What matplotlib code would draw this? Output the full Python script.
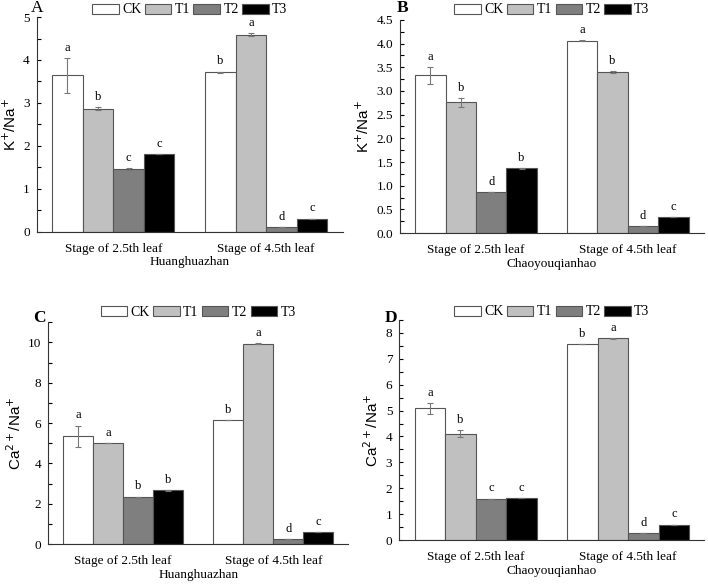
import matplotlib
matplotlib.use("Agg")
import matplotlib.pyplot as plt
from matplotlib.ticker import MultipleLocator, FormatStrFormatter
import numpy as np

# data
stages = ["Stage of 2.5th leaf", "Stage of 4.5th leaf"]
treatments = ["CK", "T1", "T2", "T3"]
colors = ["#ffffff", "#c0c0c0", "#7f7f7f", "#000000"]

a_vals = [[3.64, 2.87, 1.46, 1.81], [3.71, 4.59, 0.11, 0.31]]
a_err = [[0.40, 0.04, 0.03, 0.0], [0.02, 0.03, 0.0, 0.0]]
a_sig = [["a", "b", "c", "c"], ["b", "a", "d", "c"]]

b_vals = [[3.33, 2.76, 0.87, 1.37], [4.06, 3.40, 0.15, 0.34]]
b_err = [[0.18, 0.09, 0.0, 0.01], [0.01, 0.02, 0.0, 0.0]]
b_sig = [["a", "b", "d", "b"], ["a", "b", "d", "c"]]

c_vals = [[5.36, 4.99, 2.33, 2.66], [6.13, 9.93, 0.25, 0.58]]
c_err = [[0.52, 0.0, 0.03, 0.04], [0.0, 0.03, 0.0, 0.0]]
c_sig = [["a", "a", "b", "b"], ["b", "a", "d", "c"]]

d_vals = [[5.08, 4.11, 1.60, 1.63], [7.57, 7.79, 0.27, 0.60]]
d_err = [[0.22, 0.15, 0.0, 0.0], [0.0, 0.02, 0.0, 0.0]]
d_sig = [["a", "b", "c", "c"], ["b", "a", "d", "c"]]

serif = "Liberation Serif"
sans = "Liberation Sans"

W, H = 708, 587
fig = plt.figure(figsize=(W / 100, H / 100), dpi=100)

# label, axes rect, values, errors, letters, ymax, major, minor, ylabel, xlabel,
# tick format, legend y (axes frac), panel-letter centre (pixels), letter weight
panels = [
    ("A", [0.052, 0.605, 0.432, 0.366], a_vals, a_err, a_sig, 5, 1, 0.5,
     r"K$^{+}$/Na$^{+}$", "Huanghuazhan", "%d", 1.033, (37, 8), "normal"),
    ("B", [0.565, 0.603, 0.429, 0.363], b_vals, b_err, b_sig, 4.5, 0.5, 0.25,
     r"K$^{+}$/Na$^{+}$", "Chaoyouqianhao", "%.1f", 1.047, (403, 8), "bold"),
    ("C", [0.068, 0.073, 0.424, 0.378], c_vals, c_err, c_sig, 11, 2, 1,
     r"Ca$^{2+}$/Na$^{+}$", "Huanghuazhan", "%d", 1.045, (39, 318), "bold"),
    ("D", [0.564, 0.080, 0.431, 0.375], d_vals, d_err, d_sig, 8.5, 1, 0.5,
     r"Ca$^{2+}$/Na$^{+}$", "Chaoyouqianhao", "%d", 1.036, (391, 318), "bold"),
]

width = 0.2
x = np.arange(len(stages))

for (label, rect, vals, errs, sigs, ymax, major, minor, ylab, xlab, fmt,
     leg_y, lab_xy, lab_w) in panels:
    ax = fig.add_axes(rect)
    vals = np.array(vals)
    errs = np.array(errs)
    for j, name in enumerate(treatments):
        pos = x + (j - 1.5) * width
        ax.bar(pos, vals[:, j], width, color=colors[j], edgecolor="#555555",
               linewidth=0.8, label=name, zorder=2)
        ax.errorbar(pos, vals[:, j], yerr=errs[:, j], fmt="none",
                    ecolor="#777777", elinewidth=0.8, capsize=2.5,
                    capthick=0.8, zorder=3)
        for i in range(len(stages)):
            ax.annotate(sigs[i][j], (pos[i], vals[i, j] + errs[i, j]),
                        xytext=(0, 3), textcoords="offset points",
                        ha="center", va="bottom", fontsize=9, family=serif)

    ax.set_xlim(-0.5, 1.5)
    ax.set_ylim(0, ymax)
    ax.yaxis.set_major_locator(MultipleLocator(major))
    ax.yaxis.set_minor_locator(MultipleLocator(minor))
    ax.yaxis.set_major_formatter(FormatStrFormatter(fmt))
    ax.set_xticks(x)
    ax.set_xticklabels(stages, family=serif, fontsize=9.5)
    ax.tick_params(axis="x", length=0, pad=8)
    ax.tick_params(axis="y", which="both", direction="in", length=3,
                   width=0.8, labelsize=9.5, pad=5)
    for t in ax.get_yticklabels():
        t.set_family(serif)
    ax.spines["top"].set_visible(False)
    ax.spines["right"].set_visible(False)
    ax.spines["left"].set_color("#333333")
    ax.spines["bottom"].set_color("#333333")
    ax.set_ylabel(ylab, family=sans, fontsize=11, labelpad=3)
    ax.set_xlabel(xlab, family=serif, fontsize=9.5, labelpad=1)
    fig.text(lab_xy[0] / W, 1 - lab_xy[1] / H, label, fontsize=12.5,
             fontweight=lab_w, family=serif, ha="center", va="center")
    ax.legend(loc="center", bbox_to_anchor=(0.5, leg_y), ncol=4,
              frameon=False, prop={"family": serif, "size": 10},
              handlelength=1.9, handleheight=0.75, handletextpad=0.25,
              columnspacing=0.25, borderaxespad=0.0, borderpad=0.0)

fig.savefig("out.png", dpi=100)
